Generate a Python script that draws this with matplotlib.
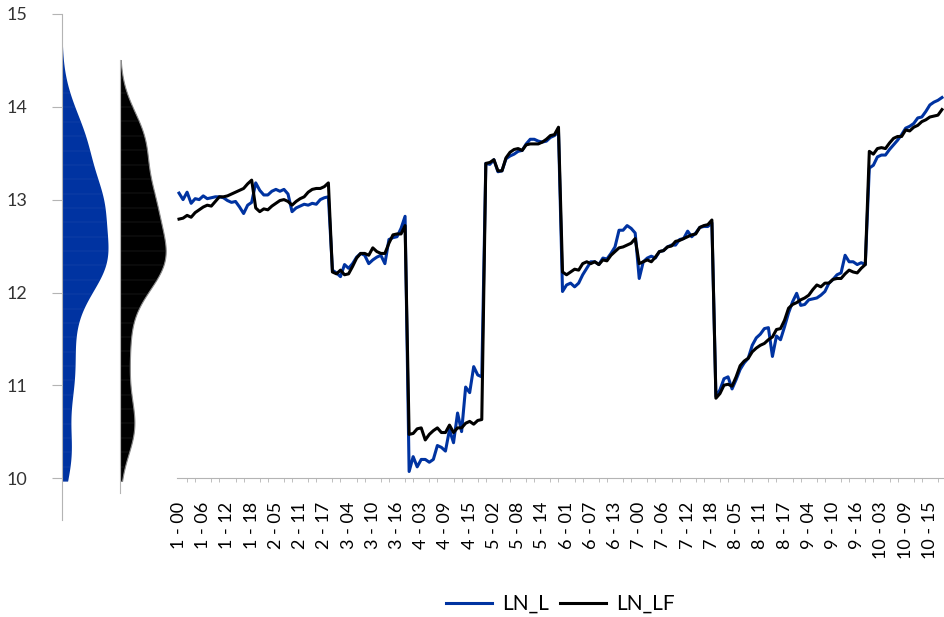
import numpy as np
import matplotlib
matplotlib.use("Agg")
import matplotlib.pyplot as plt

plt.rcParams['font.family'] = ['Lato', 'DejaVu Sans']

# ---- data (10 groups x 19 periods) ----
groups = list(range(1, 11))
n_periods = 19

ln_l = [
    13.07, 13.00, 13.08, 12.96, 13.01, 13.00, 13.04, 13.01, 13.02, 13.03, 13.03, 13.02, 12.99, 12.97, 12.98, 12.92, 12.85, 12.94, 12.97,
    13.18, 13.10, 13.05, 13.05, 13.09, 13.11, 13.09, 13.11, 13.06, 12.87, 12.91, 12.93, 12.95, 12.94, 12.96, 12.95, 13.00, 13.02, 13.03,
    12.24, 12.21, 12.17, 12.30, 12.26, 12.31, 12.38, 12.42, 12.40, 12.31, 12.35, 12.38, 12.40, 12.31, 12.57, 12.59, 12.60, 12.69, 12.82,
    10.07, 10.23, 10.12, 10.20, 10.20, 10.17, 10.20, 10.35, 10.33, 10.29, 10.52, 10.38, 10.70, 10.50, 10.98, 10.92, 11.20, 11.11, 11.09,
    13.39, 13.38, 13.43, 13.30, 13.31, 13.44, 13.47, 13.49, 13.52, 13.53, 13.60, 13.65, 13.65, 13.63, 13.62, 13.63, 13.67, 13.69, 13.73,
    12.01, 12.08, 12.10, 12.06, 12.10, 12.19, 12.26, 12.33, 12.33, 12.30, 12.37, 12.36, 12.42, 12.49, 12.67, 12.67, 12.72, 12.69, 12.64,
    12.15, 12.33, 12.37, 12.39, 12.37, 12.44, 12.45, 12.49, 12.51, 12.51, 12.57, 12.58, 12.66, 12.60, 12.64, 12.70, 12.71, 12.71, 12.75,
    10.88, 10.95, 11.07, 11.09, 10.96, 11.06, 11.17, 11.24, 11.29, 11.43, 11.51, 11.55, 11.61, 11.62, 11.31, 11.53, 11.49, 11.63, 11.78,
    11.90, 11.99, 11.86, 11.87, 11.92, 11.93, 11.94, 11.97, 12.01, 12.10, 12.14, 12.19, 12.21, 12.40, 12.33, 12.33, 12.30, 12.32, 12.30,
    13.34, 13.37, 13.46, 13.48, 13.48, 13.54, 13.59, 13.64, 13.70, 13.77, 13.79, 13.82, 13.88, 13.89, 13.95, 14.02, 14.05, 14.07, 14.10,
]

ln_lf = [
    12.79, 12.80, 12.83, 12.81, 12.86, 12.89, 12.92, 12.94, 12.93, 12.98, 13.03, 13.03, 13.04, 13.06, 13.08, 13.10, 13.12, 13.17, 13.21,
    12.91, 12.87, 12.90, 12.89, 12.93, 12.96, 12.99, 13.00, 12.98, 12.94, 12.98, 13.01, 13.03, 13.08, 13.11, 13.12, 13.12, 13.14, 13.18,
    12.22, 12.20, 12.24, 12.19, 12.20, 12.28, 12.37, 12.42, 12.42, 12.40, 12.48, 12.44, 12.42, 12.42, 12.53, 12.62, 12.63, 12.63, 12.72,
    10.47, 10.48, 10.53, 10.54, 10.41, 10.47, 10.51, 10.54, 10.49, 10.49, 10.57, 10.49, 10.54, 10.54, 10.59, 10.61, 10.58, 10.62, 10.63,
    13.39, 13.40, 13.43, 13.31, 13.31, 13.45, 13.51, 13.54, 13.55, 13.53, 13.59, 13.60, 13.60, 13.60, 13.62, 13.65, 13.69, 13.70, 13.78,
    12.22, 12.19, 12.22, 12.25, 12.24, 12.31, 12.33, 12.31, 12.33, 12.30, 12.35, 12.34, 12.40, 12.44, 12.48, 12.49, 12.51, 12.53, 12.58,
    12.31, 12.33, 12.35, 12.33, 12.38, 12.44, 12.45, 12.49, 12.50, 12.55, 12.56, 12.58, 12.60, 12.62, 12.63, 12.70, 12.72, 12.73, 12.78,
    10.86, 10.91, 11.00, 11.01, 10.99, 11.09, 11.21, 11.26, 11.29, 11.36, 11.40, 11.43, 11.45, 11.49, 11.52, 11.60, 11.61, 11.70, 11.83,
    11.87, 11.89, 11.92, 11.94, 11.97, 12.03, 12.08, 12.06, 12.10, 12.10, 12.14, 12.15, 12.15, 12.20, 12.24, 12.22, 12.21, 12.26, 12.30,
    13.52, 13.49, 13.55, 13.56, 13.55, 13.61, 13.66, 13.68, 13.68, 13.75, 13.74, 13.78, 13.80, 13.84, 13.86, 13.89, 13.90, 13.91, 13.97,
]

categories = [f"{g} - {p:02d}" for g in groups for p in range(n_periods)]
y_ticks = [10, 11, 12, 13, 14, 15]
series_names = ["LN_L", "LN_LF"]

BLUE = "#0033a1"
GRAY = "#b4b4b4"

W, H = 945, 617
fig = plt.figure(figsize=(W / 100, H / 100), dpi=100)


def rect(l, t, r, b):
    return [l / W, 1 - b / H, (r - l) / W, (b - t) / H]


def kde(data, grid, bw):
    d = np.asarray(data)[None, :]
    g = np.asarray(grid)[:, None]
    return np.exp(-0.5 * ((g - d) / bw) ** 2).sum(axis=1)


grid = np.linspace(9.97, 14.72, 400)
bw = 0.29

# ---- blue density ----
axb = fig.add_axes(rect(62, 14, 118, 520))
dens = kde(ln_l, grid, bw)
dens = dens / dens.max()
axb.fill_betweenx(grid, 0, dens, color=BLUE, lw=0)
gl = grid[::13]
axb.hlines(gl, 0, np.interp(gl, grid, dens), color="#1e4aad", lw=0.35)
axb.set_xlim(0, 56 / 46)
axb.set_ylim(9.55, 15)
for s in ["top", "right", "bottom"]:
    axb.spines[s].set_visible(False)
axb.spines["left"].set_color(GRAY)
axb.set_xticks([])
axb.set_yticks(y_ticks)
axb.set_yticklabels([str(v) for v in y_ticks], fontsize=13, color="#333333")
axb.tick_params(axis="y", direction="out", length=7, color=GRAY, pad=18)

# ---- black density ----
axk = fig.add_axes(rect(120, 60, 178, 493))
dk = kde(ln_lf, grid, bw)
dk = dk / dk.max()
axk.fill_betweenx(grid, 0, dk, color="black", lw=0.8, edgecolor="#8a8a8a")
axk.hlines(gl, 0, np.interp(gl, grid, dk), color="#2a2a2a", lw=0.35)
axk.set_xlim(0, 58 / 45.7)
axk.set_ylim(9.84, 14.5)
for s in ["top", "right", "bottom"]:
    axk.spines[s].set_visible(False)
axk.spines["left"].set_color(GRAY)
axk.set_xticks([])
axk.set_yticks([])

# ---- main series ----
ax = fig.add_axes(rect(177, 14, 944, 478))
x = np.arange(len(ln_l))
ax.plot(x, ln_l, color=BLUE, lw=2.2, label=series_names[0])
ax.plot(x, ln_lf, color="black", lw=2.2, label=series_names[1])
ax.set_xlim(-0.5, len(x) - 0.5)
ax.set_ylim(10, 15)
ax.set_yticks([])
for s in ["top", "right", "left"]:
    ax.spines[s].set_visible(False)
ax.spines["bottom"].set_color(GRAY)
ax.set_xticks(x[::6])
ax.set_xticklabels(categories[::6], rotation=90, fontsize=13, color="black")
ax.tick_params(axis="x", which="major", length=0, pad=17)
ax.set_xticks(x[::2], minor=True)
ax.tick_params(axis="x", which="minor", length=3, color=GRAY)

ax.legend(loc="center", bbox_to_anchor=(0.5, (478 - 604) / 464), ncol=2, frameon=False,
          fontsize=15, handlelength=2.2, handletextpad=0.5, columnspacing=0.5)

fig.savefig("out.png", dpi=100)
